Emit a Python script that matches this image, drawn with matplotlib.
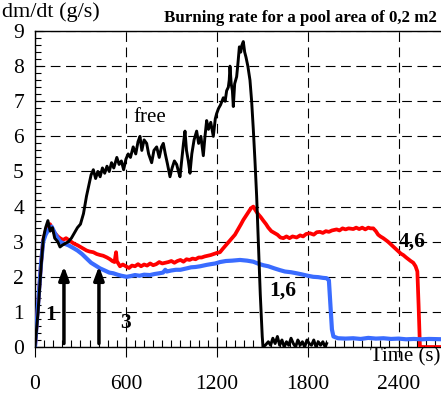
import numpy as np
import matplotlib.pyplot as plt
from matplotlib.ticker import MultipleLocator

plt.rcParams['font.family'] = ['Liberation Serif', 'DejaVu Serif']
plt.rcParams['lines.scale_dashes'] = False

# "free" curve (black)
free_t = [0, 20, 40, 55, 70, 85, 100, 115, 130, 150, 165, 180, 200, 220, 240, 260,
          280, 300, 320, 340, 355, 370, 385, 400, 415, 430, 445, 460, 475, 490, 505,
          520, 540, 555, 570, 585, 600, 615, 630, 648, 665, 680, 693, 705, 720, 737,
          750, 770, 785, 803, 820, 835, 847, 860, 875, 891, 905, 920, 935, 947, 957,
          970, 980, 990, 1000, 1012, 1023, 1035, 1050, 1067, 1080, 1095, 1111, 1122,
          1133, 1145, 1160, 1177, 1190, 1199, 1212, 1225, 1243, 1255, 1265, 1276,
          1282, 1287, 1295, 1303, 1309, 1318, 1331, 1340, 1349, 1358, 1366, 1375,
          1384, 1393, 1405, 1419, 1430, 1441, 1452, 1463, 1475, 1487, 1500, 1505,
          1520, 1540, 1555, 1570, 1585, 1600, 1615, 1630, 1645, 1660, 1675, 1690,
          1705, 1720, 1735, 1750, 1765, 1780, 1795, 1810, 1825, 1840, 1855, 1870,
          1885, 1900, 1915, 1925]
free_v = [0, 1.0, 2.3, 3.1, 3.4, 3.6, 3.3, 3.4, 3.1, 3.0, 2.85, 2.9, 2.95, 3.0, 3.1,
          3.25, 3.4, 3.5, 3.8, 4.3, 4.6, 4.9, 5.05, 4.8, 5.0, 4.85, 5.1, 4.95, 5.15,
          5.0, 5.25, 5.1, 5.4, 5.2, 5.3, 5.05, 5.35, 5.5, 5.4, 5.7, 5.5, 5.85, 6.0,
          5.6, 5.9, 5.8, 5.5, 5.25, 5.6, 5.7, 5.4, 5.7, 5.8, 5.5, 5.2, 4.85, 5.1, 5.3,
          5.2, 5.0, 4.85, 5.4, 5.8, 6.15, 5.6, 5.3, 4.95, 5.5, 5.9, 6.15, 5.8, 6.0,
          5.45, 6.0, 6.45, 6.2, 6.4, 6.0, 6.5, 6.65, 6.8, 6.9, 7.1, 7.0, 7.3, 7.4,
          7.6, 8.0, 7.5, 7.3, 6.85, 7.5, 7.7, 8.1, 8.55, 8.4, 8.6, 8.7, 8.4, 8.25,
          8.0, 7.6, 7.0, 6.2, 5.3, 4.3, 2.9, 1.5, 0.3, 0.0,
          0.05, 0.15, 0.05, 0.25, 0.1, 0.3, 0.05, 0.2, 0.0, 0.15, 0.05, 0.25, 0.1,
          0.0, 0.2, 0.05, 0.15, 0.0, 0.2, 0.1, 0.05, 0.2, 0.0, 0.15, 0.05, 0.15,
          0.0, 0.1]

# 4,6 curve (red)
red_t = [0, 20, 40, 54, 70, 85, 99, 115, 130, 150, 165, 185, 205, 231, 255, 280, 300,
         319, 340, 360, 385, 407, 430, 450, 475, 495, 510, 525, 535, 540, 561, 580,
         600, 620, 640, 660, 680, 700, 720, 740, 760, 780, 800, 820, 840, 860, 880,
         900, 920, 940, 960, 980, 1000, 1020, 1040, 1060, 1080, 1100, 1120, 1140,
         1160, 1180, 1200, 1221, 1240, 1260, 1280, 1300, 1320, 1340, 1360, 1375,
         1395, 1410, 1425, 1441, 1455, 1470, 1490, 1507, 1525, 1540, 1560, 1580,
         1600, 1620, 1639, 1660, 1680, 1700, 1727, 1750, 1770, 1790, 1815, 1840,
         1860, 1881, 1900, 1920, 1940, 1960, 1991, 2010, 2030, 2050, 2070, 2101,
         2120, 2140, 2160, 2180, 2200, 2215, 2233, 2250, 2265, 2280, 2299, 2315,
         2330, 2350, 2365, 2380, 2400, 2415, 2431, 2450, 2465, 2480, 2497, 2512,
         2524, 2532, 2541, 2700]
red_v = [0, 1.2, 2.4, 3.05, 3.3, 3.45, 3.5, 3.35, 3.25, 3.15, 3.1, 3.05, 3.1, 3.02,
         2.95, 2.9, 2.85, 2.8, 2.75, 2.72, 2.7, 2.65, 2.62, 2.6, 2.55, 2.5, 2.45,
         2.42, 2.7, 2.45, 2.3, 2.35, 2.3, 2.25, 2.32, 2.3, 2.36, 2.3, 2.35, 2.32,
         2.38, 2.33, 2.36, 2.42, 2.38, 2.4, 2.42, 2.45, 2.4, 2.45, 2.48, 2.43, 2.5,
         2.48, 2.52, 2.5, 2.55, 2.55, 2.58, 2.6, 2.62, 2.65, 2.68, 2.7, 2.8, 2.9,
         3.0, 3.1, 3.2, 3.35, 3.5, 3.62, 3.75, 3.85, 3.95, 4.0, 3.9, 3.8, 3.7, 3.6,
         3.5, 3.4, 3.3, 3.25, 3.2, 3.12, 3.1, 3.15, 3.1, 3.15, 3.12, 3.18, 3.15,
         3.22, 3.24, 3.2, 3.27, 3.28, 3.25, 3.3, 3.28, 3.32, 3.35, 3.32, 3.38, 3.35,
         3.38, 3.36, 3.4, 3.36, 3.4, 3.35, 3.4, 3.38, 3.38, 3.3, 3.2, 3.15, 3.1,
         3.05, 3.0, 2.92, 2.86, 2.8, 2.72, 2.66, 2.62, 2.55, 2.5, 2.45, 2.4, 2.3,
         2.15, 1.2, 0.0, 0.0]

# 1,6 curve (blue)
blue_t = [0, 20, 40, 54, 70, 90, 110, 130, 150, 165, 190, 220, 253, 280, 310, 341,
          370, 400, 429, 460, 490, 517, 545, 570, 605, 630, 660, 690, 720, 759, 790,
          820, 845, 860, 869, 900, 930, 960, 1001, 1030, 1060, 1090, 1133, 1160, 1190,
          1221, 1260, 1300, 1353, 1400, 1441, 1470, 1507, 1540, 1580, 1617, 1650,
          1690, 1727, 1760, 1800, 1837, 1870, 1900, 1925, 1940, 1950, 1960, 1970,
          2000, 2050, 2100, 2150, 2200, 2250, 2300, 2350, 2400, 2450, 2500, 2550,
          2600, 2700]
blue_v = [0, 1.2, 2.4, 3.0, 3.2, 3.35, 3.43, 3.25, 3.1, 3.0, 2.95, 2.9, 2.82, 2.75,
          2.65, 2.52, 2.4, 2.32, 2.24, 2.18, 2.12, 2.1, 2.06, 2.03, 2.0, 2.02, 2.05,
          2.03, 2.06, 2.05, 2.08, 2.1, 2.12, 2.2, 2.15, 2.18, 2.2, 2.2, 2.24, 2.27,
          2.28, 2.3, 2.34, 2.36, 2.38, 2.42, 2.45, 2.46, 2.48, 2.46, 2.43, 2.38, 2.33,
          2.3, 2.24, 2.19, 2.15, 2.13, 2.1, 2.07, 2.03, 2.0, 1.99, 1.97, 1.96, 1.9,
          1.2, 0.5, 0.3, 0.25, 0.24, 0.25, 0.23, 0.26, 0.24, 0.25, 0.23, 0.24, 0.22,
          0.23, 0.22, 0.23, 0.22]

arrow_t = [191, 422]

fig = plt.figure(figsize=(4.41, 3.93), dpi=100)
ax = fig.add_axes([0.0794, 0.117, 0.9206, 0.804])

ax.plot(red_t, red_v, color='#ff0000', lw=2.7, zorder=3)
ax.plot(blue_t, blue_v, color='#3a6cff', lw=3.0, zorder=4)
ax.plot(free_t, free_v, color='black', lw=2.1, zorder=5)

for t in arrow_t:
    ax.annotate('', xy=(t, 2.3), xytext=(t, 0.1),
                arrowprops=dict(arrowstyle='-|>,head_width=0.3,head_length=0.8',
                                lw=2.5, color='black', shrinkA=0, shrinkB=0),
                zorder=6)

ax.set_xlim(0, 2680)
ax.set_ylim(0, 9)
ax.xaxis.set_major_locator(MultipleLocator(600))
ax.xaxis.set_minor_locator(MultipleLocator(60))
ax.yaxis.set_major_locator(MultipleLocator(1))
ax.yaxis.set_minor_locator(MultipleLocator(0.2))
ax.grid(True, color='black', lw=0.8, linestyle=(0, (7, 4)))

ax.tick_params(axis='x', which='major', direction='inout', length=14, width=0.8,
               pad=13, labelsize=15.5)
ax.tick_params(axis='x', which='minor', direction='in', length=5, width=0.8)
ax.tick_params(axis='y', which='major', direction='in', length=6, width=0.8,
               pad=8, labelsize=15.5)
ax.tick_params(axis='y', which='minor', direction='in', length=4, width=0.8)
ax.spines['right'].set_visible(False)
for s in ['left', 'bottom', 'top']:
    ax.spines[s].set_linewidth(1.0)

fig.text(0.005, 0.943, 'dm/dt (g/s)', fontsize=16, ha='left', va='bottom')
fig.text(0.99, 0.935, 'Burning rate for a pool area of 0,2 m2', fontsize=12.2,
         fontweight='bold', ha='right', va='bottom')
fig.text(0.998, 0.117, 'Time (s)', fontsize=15, ha='right', va='top')

ax.text(105, 0.9, '1', fontsize=15.5, fontweight='bold', ha='center', va='center')
ax.text(600, 0.68, '3', fontsize=15.5, fontweight='bold', ha='center', va='center')
ax.text(1637, 1.62, '1,6', fontsize=15.5, fontweight='bold', ha='center', va='center')
ax.text(2487, 3.0, '4,6', fontsize=15.5, fontweight='bold', ha='center', va='center')
ax.text(760, 6.55, 'free', fontsize=15, ha='center', va='center')

fig.savefig('out.png', dpi=100)
